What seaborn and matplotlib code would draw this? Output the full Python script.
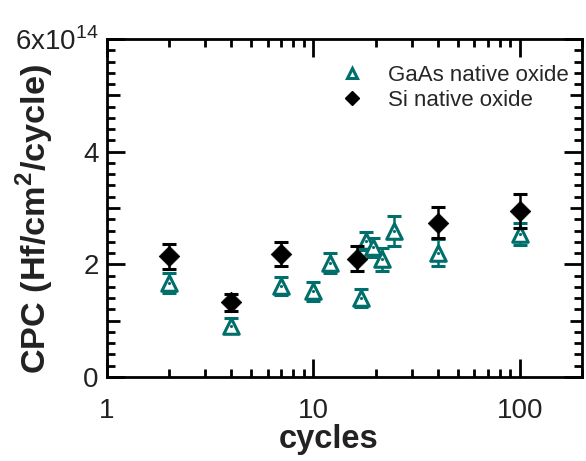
import numpy as np
import pandas as pd
import matplotlib
matplotlib.use("Agg")
import matplotlib.pyplot as plt
import seaborn as sns
from matplotlib.lines import Line2D
from matplotlib.ticker import FixedLocator, MultipleLocator, LogLocator, NullFormatter

# ---- data (CPC in units of 1e14 Hf/cm^2/cycle) ----
gaas_cycles = [2, 4, 7, 10, 12, 17, 18, 19.5, 21.5, 24.5, 40, 100]
gaas_cpc = [1.67, 0.91, 1.62, 1.52, 2.02, 1.41, 2.42, 2.30, 2.09, 2.59, 2.21, 2.54]
gaas_err = [0.17, 0.13, 0.16, 0.17, 0.18, 0.16, 0.16, 0.17, 0.20, 0.27, 0.24, 0.20]

si_cycles = [2, 4, 7, 16.3, 40, 100]
si_cpc = [2.14, 1.33, 2.18, 2.10, 2.74, 2.94]
si_err = [0.22, 0.15, 0.21, 0.22, 0.27, 0.30]

y_ticks = [0, 1, 2, 3, 4, 5, 6]
y_ticklabels = ["0", "", "2", "", "4", "", "6x10$^{14}$"]
x_ticks = [1, 10, 100]
x_ticklabels = ["1", "10", "100"]

series_names = ["GaAs native oxide", "Si native oxide"]
teal = "#006E6A"

sns.set_theme(style="ticks")
plt.rcParams["font.family"] = ["Liberation Sans", "DejaVu Sans"]
plt.rcParams["mathtext.fontset"] = "custom"
plt.rcParams["mathtext.rm"] = "Liberation Sans"
plt.rcParams["mathtext.bf"] = "Liberation Sans:bold"

fig = plt.figure(figsize=(5.86, 4.61), dpi=100)
ax = fig.add_axes([107/586, 1-377/461, (582-107)/586, (377-39)/461])

df_g = pd.DataFrame({"cycles": gaas_cycles, "cpc": gaas_cpc, "err": gaas_err})
df_s = pd.DataFrame({"cycles": si_cycles, "cpc": si_cpc, "err": si_err})

# error bars
ax.errorbar(df_g["cycles"], df_g["cpc"], yerr=df_g["err"], fmt="none",
            ecolor=teal, elinewidth=1.8, capsize=5, capthick=2.2, zorder=2)
sns.scatterplot(data=df_g, x="cycles", y="cpc", ax=ax, marker="^", s=125,
                facecolor="white", edgecolor=teal, linewidth=2.2, zorder=3, legend=False)
sns.scatterplot(data=df_g, x="cycles", y="cpc", ax=ax, marker="o", s=5,
                color=teal, edgecolor=teal, linewidth=0, zorder=3.5, legend=False)

ax.errorbar(df_s["cycles"], df_s["cpc"], yerr=df_s["err"], fmt="none",
            ecolor="black", elinewidth=1.8, capsize=5, capthick=2.2, zorder=4)
sns.scatterplot(data=df_s, x="cycles", y="cpc", ax=ax, marker="D", s=110,
                color="black", edgecolor="black", linewidth=0.5, zorder=5, legend=False)

ax.set_xscale("log")
ax.set_xlim(1, 200)
ax.set_ylim(0, 6)

ax.xaxis.set_major_locator(FixedLocator(x_ticks))
ax.set_xticklabels(x_ticklabels)
ax.xaxis.set_minor_locator(LogLocator(base=10, subs=np.arange(2, 10), numticks=20))
ax.xaxis.set_minor_formatter(NullFormatter())

ax.yaxis.set_major_locator(FixedLocator(y_ticks))
ax.set_yticklabels(y_ticklabels)
ax.yaxis.set_minor_locator(MultipleLocator(0.2))

ax.tick_params(axis="both", which="both", direction="in", top=True, right=True,
               width=2, colors="black")
ax.tick_params(axis="both", which="major", length=13, labelsize=20)
ax.tick_params(axis="y", which="major", pad=6)
ax.tick_params(axis="x", which="major", pad=15)
ax.tick_params(axis="both", which="minor", length=6)
for lbl in ax.get_xticklabels() + ax.get_yticklabels():
    lbl.set_color("#222222")

# medium ticks at odd integers
for i, t in enumerate(ax.yaxis.get_major_ticks()):
    if i % 2 == 1:
        t.tick1line.set_markersize(9)
        t.tick2line.set_markersize(9)

for sp in ax.spines.values():
    sp.set_linewidth(2)
    sp.set_color("black")

ax.set_xlabel("cycles", fontsize=23.5, fontweight="bold", color="#222222")
ax.xaxis.set_label_coords(0.467, -0.138)
ax.xaxis.label.set_verticalalignment("top")
ax.set_ylabel("CPC (Hf/cm$^\\mathbf{2}$/cycle)", fontsize=24.7, fontweight="bold",
              color="#222222")
ax.yaxis.label.set_verticalalignment("center")
ax.yaxis.set_label_coords(-0.152, 0.467)

handles = [
    Line2D([], [], marker="^", linestyle="none", markersize=7, markerfacecolor="white",
           markeredgecolor=teal, markeredgewidth=2.2),
    Line2D([], [], marker="D", linestyle="none", markersize=7.5, color="black"),
]
ax.legend(handles, series_names, loc="upper left", bbox_to_anchor=(0.474, 0.95),
          frameon=False, handlelength=1.0, handletextpad=1.1,
          labelspacing=0.2, borderaxespad=0, prop={"family": ["Liberation Sans"], "size": 16})

fig.savefig("out.png", dpi=100)
